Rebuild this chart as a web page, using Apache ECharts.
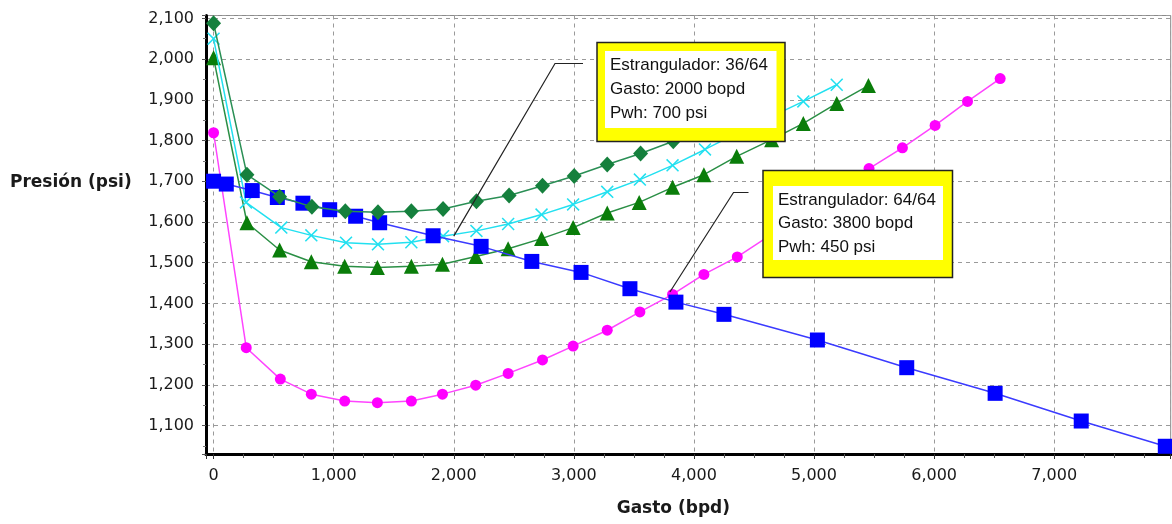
<!DOCTYPE html>
<html><head><meta charset="utf-8">
<script src="https://cdn.jsdelivr.net/npm/echarts@6/dist/echarts.min.js"></script>
<style>html,body{margin:0;padding:0;background:#fff}#c{width:1172px;height:524px}</style>
</head><body><div id="c"></div>
<script>
// ---- data ----
const qIPR = [0, 106, 322, 531, 744, 967, 1183, 1383, 1828, 2228, 2650, 3060, 3467, 3850, 4250, 5028, 5772, 6508, 7225, 7925];
const pIPR = [1700, 1693, 1677, 1660, 1646, 1630, 1614, 1598, 1566, 1540, 1503, 1476, 1436, 1403, 1373, 1310, 1242, 1179, 1111, 1049];

const qDiamond = [0, 278, 550, 819, 1097, 1369, 1647, 1911, 2189, 2461, 2739, 3003, 3278, 3556, 3828, 4100];
const pDiamond = [2088, 1716, 1662, 1637, 1626, 1624, 1626, 1632, 1651, 1665, 1689, 1713, 1741, 1768, 1798, 1830];

const qCross = [0, 270, 564, 814, 1103, 1369, 1647, 1911, 2189, 2453, 2731, 2994, 3278, 3550, 3822, 4092, 4360, 4640, 4911, 5189];
const pCross = [2050, 1648, 1586, 1567, 1549, 1545, 1550, 1565, 1578, 1595, 1618, 1643, 1674, 1704, 1739, 1778, 1818, 1858, 1896, 1937];

const qTriangle = [0, 278, 550, 814, 1092, 1364, 1647, 1906, 2183, 2453, 2731, 2994, 3278, 3544, 3822, 4083, 4356, 4647, 4911, 5189, 5453];
const pTriangle = [2003, 1598, 1531, 1502, 1491, 1488, 1491, 1496, 1515, 1534, 1559, 1586, 1622, 1648, 1685, 1716, 1761, 1802, 1842, 1891, 1935];

const qCircle = [0, 272, 556, 814, 1092, 1364, 1647, 1906, 2183, 2453, 2739, 2994, 3278, 3550, 3822, 4083, 4361, 4640, 4910, 5180, 5458, 5736, 6008, 6278, 6550];
const pCircle = [1819, 1291, 1214, 1177, 1160, 1156, 1160, 1177, 1199, 1228, 1261, 1295, 1334, 1379, 1422, 1471, 1514, 1568, 1622, 1676, 1731, 1782, 1837, 1896, 1952];

const annotAnchors = [[2000, 1565], [3800, 1428]];
const annotTexts = [
  ["Estrangulador: 36/64", "Gasto: 2000 bopd", "Pwh: 700 psi"],
  ["Estrangulador: 64/64", "Gasto: 3800 bopd", "Pwh: 450 psi"]
];
const yTitle = "Presión (psi)";
const xTitle = "Gasto (bpd)";

// ---- chart ----
const pairs = (q, p) => q.map((v, i) => [v, p[i]]);
const fmt = v => String(Math.round(v)).replace(/\B(?=(\d{3})+(?!\d))/g, ',');
const crossPath = 'path://M0,1L1,0L6,5L11,0L12,1L7,6L12,11L11,12L6,7L1,12L0,11L5,6Z';

function mk(name, q, p, symbol, size, color, lineColor, z) {
  return {
    type: 'line', name, data: pairs(q, p), symbol, symbolSize: size,
    itemStyle: { color }, lineStyle: { color: lineColor, width: 1.5 },
    z, animation: false, emphasis: { disabled: true }
  };
}

const chart = echarts.init(document.getElementById('c'), null, { renderer: 'canvas' });
const labelFont = { fontFamily: 'DejaVu Sans', fontSize: 16, color: '#1a1a1a' };
const gridDash = { color: '#9a9a9a', type: [4, 4], width: 1 };

chart.setOption({
  animation: false,
  backgroundColor: '#fff',
  grid: { left: 206, right: 1.3, top: 15.5, bottom: 70, show: true, borderColor: '#8a8a8a', borderWidth: 1, backgroundColor: 'transparent' },
  xAxis: {
    type: 'value', min: -63, max: 7970, splitNumber: 8,
    name: xTitle, nameLocation: 'middle', nameGap: 46,
    nameTextStyle: { fontFamily: 'DejaVu Sans', fontWeight: 'bold', fontSize: 17, color: '#1a1a1a', padding: [0, 30, 0, 0] },
    axisLine: { onZero: false, lineStyle: { color: '#000', width: 3 } },
    axisTick: { show: true, length: 5, lineStyle: { color: '#333' } },
    minorTick: { show: true, splitNumber: 4, length: 4, lineStyle: { color: '#555' } },
    axisLabel: Object.assign({ margin: 14, showMinLabel: false, showMaxLabel: false, formatter: fmt }, labelFont),
    splitLine: { show: true, lineStyle: gridDash }
  },
  yAxis: {
    type: 'value', min: 1030, max: 2107, splitNumber: 10,
    axisLine: { onZero: false, lineStyle: { color: '#000', width: 3 } },
    axisTick: { show: true, length: 4, lineStyle: { color: '#555' } },
    minorTick: { show: true, splitNumber: 2, length: 3, lineStyle: { color: '#777' } },
    axisLabel: Object.assign({ margin: 12, showMinLabel: false, showMaxLabel: false, formatter: fmt }, labelFont),
    splitLine: { show: true, lineStyle: gridDash }
  },
  series: [
    mk('Estrangulador 64/64', qCircle, pCircle, 'circle', 11, '#ff00ff', '#ff44ff', 2),
    mk('Estrangulador A', qTriangle, pTriangle, 'triangle', 15, '#0a7d0a', '#2a8f45', 3),
    mk('Estrangulador 36/64', qCross, pCross, crossPath, 13, '#22e0f0', '#22e0f0', 4),
    mk('IPR', qIPR, pIPR, 'rect', 15, '#0000ff', '#3b3bff', 5),
    mk('Estrangulador B', qDiamond, pDiamond, 'diamond', [15, 16], '#15803d', '#2a8f55', 6)
  ]
});

// ---- annotations (yellow boxes with leader lines) ----
const boxes = [
  { x: 597, y: 42.5, w: 188, h: 99, ix: 605, iy: 51, iw: 171.5, ih: 77, tx: 610, ty: [65, 89.5, 113.5], elbow: [[583, 63.5], [555, 63.5]] },
  { x: 763, y: 170.5, w: 189.5, h: 107, ix: 773, iy: 186, iw: 170, ih: 74, tx: 778, ty: [200, 223.5, 247.5], elbow: [[748.5, 192.5], [733.5, 192.5]] }
];
const graphics = [];
boxes.forEach((b, i) => {
  const a = chart.convertToPixel({ gridIndex: 0 }, annotAnchors[i]);
  graphics.push({ type: 'polyline', z: 50, silent: true, shape: { points: b.elbow.concat([a]) }, style: { stroke: '#222', lineWidth: 1.2, fill: null } });
  graphics.push({ type: 'rect', z: 51, silent: true, shape: { x: b.x, y: b.y, width: b.w, height: b.h }, style: { fill: '#ffff00', stroke: '#222', lineWidth: 1.5 } });
  graphics.push({ type: 'rect', z: 52, silent: true, shape: { x: b.ix, y: b.iy, width: b.iw, height: b.ih }, style: { fill: '#ffffff' } });
  annotTexts[i].forEach((t, k) => {
    graphics.push({ type: 'text', z: 53, silent: true, x: b.tx, y: b.ty[k], style: { text: t, fontFamily: 'Liberation Sans', fontSize: 17, fill: '#111', verticalAlign: 'middle', align: 'left' } });
  });
});
graphics.push({ type: 'text', z: 53, silent: true, x: 10, y: 183, style: { text: yTitle, fontFamily: 'DejaVu Sans', fontWeight: 'bold', fontSize: 17, fill: '#1a1a1a', verticalAlign: 'middle', align: 'left' } });
chart.setOption({ graphic: graphics });
</script>
</body></html>
